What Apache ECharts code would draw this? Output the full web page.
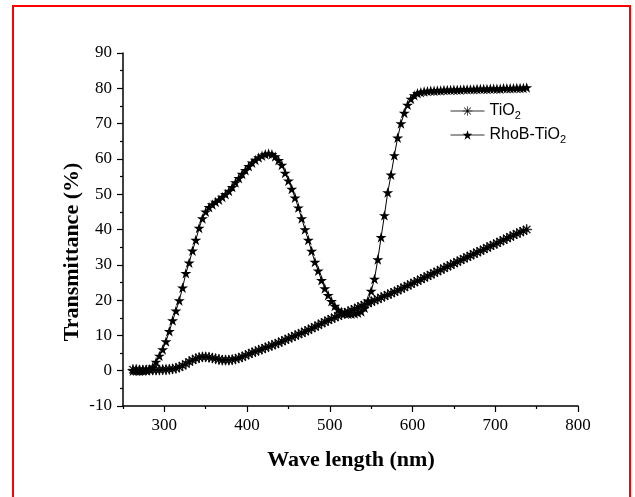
<!DOCTYPE html>
<html>
<head>
<meta charset="utf-8">
<script src="https://cdn.jsdelivr.net/npm/echarts@6/dist/echarts.min.js"></script>
<style>
html,body{margin:0;padding:0;background:#fff;}
#chart{width:635px;height:497px;}
</style>
</head>
<body>
<div id="chart"></div>
<script>
// Wavelength samples (nm)
var wavelength = [262,266,270,274,278,282,286,290,294,298,302,306,310,314,318,322,326,330,334,338,
342,346,350,354,358,362,366,370,374,378,382,386,390,394,398,402,406,410,414,418,
422,426,430,434,438,442,446,450,454,458,462,466,470,474,478,482,486,490,494,498,
502,506,510,514,518,522,526,530,534,538,542,546,550,554,558,562,566,570,574,578,
582,586,590,594,598,602,606,610,614,618,622,626,630,634,638,642,646,650,654,658,
662,666,670,674,678,682,686,690,694,698,702,706,710,714,718,722,726,730,734,738];

// Transmittance (%) of TiO2
var tio2 = [0.3,0.3,0.2,0.2,0.2,0.2,0.2,0.2,0.2,0.3,0.3,0.4,0.5,0.7,1.0,1.4,1.9,2.5,3.0,3.4,
3.7,3.9,3.9,3.8,3.6,3.4,3.2,3.0,3.0,3.0,3.1,3.3,3.6,3.9,4.3,4.7,5.1,5.4,5.8,6.1,
6.5,6.8,7.2,7.5,7.9,8.3,8.7,9.1,9.5,9.9,10.3,10.7,11.1,11.5,12.0,12.4,12.9,13.4,13.8,14.3,
14.7,15.1,15.5,15.9,16.3,16.7,17.1,17.5,17.9,18.3,18.7,19.1,19.5,19.9,20.3,20.7,21.1,21.5,21.9,22.3,
22.7,23.2,23.6,24.1,24.5,25.0,25.4,25.9,26.3,26.8,27.2,27.7,28.1,28.6,29.0,29.5,29.9,30.4,30.8,31.3,
31.7,32.2,32.6,33.1,33.5,33.9,34.4,34.8,35.3,35.7,36.1,36.6,37.0,37.5,37.9,38.4,38.8,39.2,39.6,40.0];

// Transmittance (%) of RhoB-TiO2
var rhobTio2 = [0.0,0.0,-0.1,0.0,0.1,0.4,1.1,2.5,4.2,6.0,8.3,11.2,14.2,17.0,19.9,23.5,27.6,30.6,34.0,37.0,
40.4,43.1,45.0,46.3,47.1,47.8,48.4,49.2,50.0,50.9,52.0,53.3,54.5,55.7,56.8,57.9,58.9,59.7,60.4,60.9,
61.3,61.5,61.3,60.7,59.6,58.3,56.0,53.8,51.5,49.0,46.2,43.1,40.0,37.0,33.9,30.8,28.3,25.6,23.3,21.4,
19.7,18.3,17.3,16.7,16.3,16.1,16.1,16.2,16.4,16.8,17.8,19.8,22.6,26.0,31.5,37.8,44.0,50.5,55.5,61.0,
66.0,70.0,73.0,75.3,77.0,78.0,78.6,78.9,79.1,79.2,79.3,79.3,79.4,79.4,79.5,79.5,79.5,79.6,79.6,79.6,
79.7,79.7,79.7,79.7,79.8,79.8,79.8,79.8,79.9,79.9,79.9,79.9,80.0,80.0,80.0,80.0,80.1,80.1,80.1,80.2];

var seriesNames = ['TiO2', 'RhoB-TiO2'];
var xMajorTicks = [300, 400, 500, 600, 700, 800];
var xMinorTicks = [250, 350, 450, 550, 650, 750];

var asteriskPath = 'path://M9.3 0H10.7V20H9.3Z M0 9.3H20V10.7H0Z M2.43 3.43L3.43 2.43L17.57 16.57L16.57 17.57Z M2.43 16.57L16.57 2.43L17.57 3.43L3.43 17.57Z';
var starPath = 'path://M10 0L12.25 6.91L19.51 6.91L13.63 11.18L15.88 18.09L10 13.82L4.12 18.09L6.37 11.18L0.49 6.91L7.75 6.91Z';

function pairs(xs, ys) {
  return xs.map(function (x, i) { return [x, ys[i]]; });
}

var chart = echarts.init(document.getElementById('chart'), null, {renderer: 'canvas'});
var serif = 'Liberation Serif, Times New Roman, serif';
var sans = 'Liberation Sans, Arial, sans-serif';

chart.setOption({
  animation: false,
  backgroundColor: '#ffffff',
  grid: {left: 123, right: 57, top: 53, bottom: 91, containLabel: false},
  legend: {
    orient: 'vertical',
    left: 445,
    top: 96,
    padding: 5,
    itemWidth: 34,
    itemHeight: 12,
    itemGap: 4,
    data: seriesNames,
    itemStyle: {borderWidth: 0},
    lineStyle: {color: '#333', width: 1},
    formatter: function (name) {
      return name === 'TiO2' ? '{a|TiO}{s|2}' : '{a|RhoB-TiO}{s|2}';
    },
    textStyle: {
      color: '#000',
      fontFamily: sans,
      fontSize: 16,
      rich: {
        a: {fontFamily: sans, fontSize: 16, color: '#000', lineHeight: 16, verticalAlign: 'top'},
        s: {fontFamily: sans, fontSize: 11, color: '#000', lineHeight: 11, padding: [9, 0, 0, 0]}
      }
    }
  },
  xAxis: [{
    type: 'value',
    min: 250,
    max: 800,
    interval: 50,
    position: 'bottom',
    axisLine: {show: true, onZero: false, lineStyle: {color: '#000', width: 1.5}},
    axisTick: {show: true, length: 6, customValues: xMajorTicks, lineStyle: {color: '#000', width: 1.2}},
    axisLabel: {show: true, customValues: xMajorTicks, margin: 11, color: '#000', fontFamily: serif, fontSize: 17},
    splitLine: {show: false}
  }, {
    type: 'value',
    min: 250,
    max: 800,
    interval: 50,
    position: 'bottom',
    axisLine: {show: false, onZero: false},
    axisTick: {show: true, length: 3, customValues: xMinorTicks, lineStyle: {color: '#000', width: 1.2}},
    axisLabel: {show: false},
    splitLine: {show: false}
  }],
  yAxis: {
    type: 'value',
    min: -10,
    max: 90,
    interval: 10,
    axisLine: {show: true, onZero: false, lineStyle: {color: '#000', width: 1.5}},
    axisTick: {show: true, length: 6, lineStyle: {color: '#000', width: 1.2}},
    minorTick: {show: true, splitNumber: 2, length: 3, lineStyle: {color: '#000', width: 1.2}},
    axisLabel: {margin: 11, color: '#000', fontFamily: serif, fontSize: 17},
    splitLine: {show: false}
  },
  graphic: [
    {type: 'rect', shape: {x: 13, y: 6, width: 617, height: 520}, style: {fill: 'none', stroke: '#ff0000', lineWidth: 2}, silent: true},
    {type: 'text', x: 351, y: 460, style: {text: 'Wave length (nm)', font: 'bold 22px ' + serif, fill: '#000', align: 'center', verticalAlign: 'middle'}},
    {type: 'text', x: 72, y: 252, rotation: Math.PI / 2, style: {text: 'Transmittance (%)', font: 'bold 22px ' + serif, fill: '#000', align: 'center', verticalAlign: 'middle'}}
  ],
  series: [{
    name: 'TiO2',
    type: 'line',
    data: pairs(wavelength, tio2),
    symbol: asteriskPath,
    symbolSize: 10,
    symbolKeepAspect: true,
    showAllSymbol: true,
    lineStyle: {color: '#000', width: 1},
    itemStyle: {color: '#000', borderColor: '#000', borderWidth: 0.6},
    z: 2
  }, {
    name: 'RhoB-TiO2',
    type: 'line',
    data: pairs(wavelength, rhobTio2),
    symbol: starPath,
    symbolSize: 11,
    symbolKeepAspect: true,
    showAllSymbol: true,
    lineStyle: {color: '#000', width: 1},
    itemStyle: {color: '#000'},
    z: 3
  }]
});
</script>
</body>
</html>
